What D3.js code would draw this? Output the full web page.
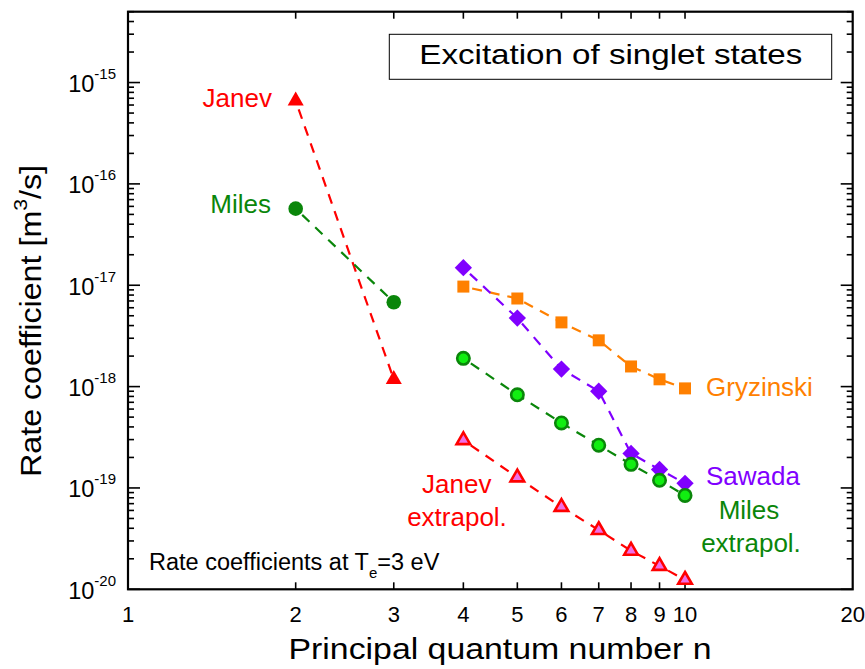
<!DOCTYPE html>
<html><head><meta charset="utf-8">
<script src="https://cdn.jsdelivr.net/npm/d3@7"></script>
<style>body{margin:0;background:#fff}text{font-family:"Liberation Sans",Arial,Helvetica,sans-serif}</style>
</head><body>
<svg id="c" width="865" height="669"></svg>
<script>
// ---- data ----
const nLow = [2, 3];
const janev = [6.6e-16, 1.18e-18];
const miles = [5.7e-17, 6.8e-18];
const nHigh = [4, 5, 6, 7, 8, 9, 10];
const sawada = [1.49e-17, 4.74e-18, 1.49e-18, 9.0e-19, 2.19e-19, 1.52e-19, 1.11e-19];
const gryzinski = [9.7e-18, 7.4e-18, 4.3e-18, 2.86e-18, 1.58e-18, 1.18e-18, 9.6e-19];
const milesExtrap = [1.9e-18, 8.3e-19, 4.38e-19, 2.64e-19, 1.71e-19, 1.19e-19, 8.44e-20];
const janevExtrap = [2.96e-19, 1.27e-19, 6.5e-20, 3.84e-20, 2.4e-20, 1.7e-20, 1.24e-20];
const xTicks = [1, 2, 3, 4, 5, 6, 7, 8, 9, 10, 20];
const yDecades = [-20, -19, -18, -17, -16, -15];

// ---- layout ----
const L = 128, R = 852.7, T = 11.7, B = 589.3;
const svg = d3.select("#c");
const x = d3.scaleLog().domain([1, 20]).range([L, R]);
const y = d3.scaleLog().domain([1e-20, 5e-15]).range([B, T]);

// ticks
const g = svg.append("g").attr("stroke", "#000").attr("stroke-width", 1.6);
xTicks.filter(v => v > 1 && v < 20).forEach(v => {
  g.append("line").attr("x1", x(v)).attr("x2", x(v)).attr("y1", B).attr("y2", B - 7);
  g.append("line").attr("x1", x(v)).attr("x2", x(v)).attr("y1", T).attr("y2", T + 7);
});
yDecades.forEach(d => {
  for (let m = 1; m <= 9; m++) {
    const v = m * Math.pow(10, d);
    if (v > 5.0001e-15 || v <= 1e-20 * 0.999) continue;
    const len = m === 1 ? 12 : 6;
    g.append("line").attr("x1", L).attr("x2", L + len).attr("y1", y(v)).attr("y2", y(v));
    g.append("line").attr("x1", R).attr("x2", R - len).attr("y1", y(v)).attr("y2", y(v));
  }
});
svg.append("rect").attr("x", L).attr("y", T).attr("width", R - L).attr("height", B - T)
  .attr("fill", "none").attr("stroke", "#000").attr("stroke-width", 2.2);

// tick labels
xTicks.forEach(v => {
  svg.append("text").attr("x", x(v)).attr("y", 621.5).attr("text-anchor", "middle")
    .attr("font-size", 22).text(v);
});
yDecades.forEach(d => {
  const t = svg.append("text").attr("x", 116).attr("y", y(Math.pow(10, d)) + 9.5)
    .attr("text-anchor", "end").attr("font-size", 23.5);
  t.append("tspan").text("10");
  t.append("tspan").attr("dy", -13).attr("font-size", 15).text(String(d));
});

// axis titles
svg.append("text").attr("x", 500).attr("y", 658.5).attr("text-anchor", "middle")
  .attr("font-size", 29).attr("textLength", 423).attr("lengthAdjust", "spacingAndGlyphs")
  .text("Principal quantum number n");
const yt = svg.append("text").attr("transform", "translate(41,321) rotate(-90)")
  .attr("text-anchor", "middle").attr("font-size", 29)
  .attr("textLength", 312).attr("lengthAdjust", "spacingAndGlyphs");
yt.append("tspan").text("Rate coefficient [m");
yt.append("tspan").attr("dy", -14).attr("font-size", 19).text("3");
yt.append("tspan").attr("dy", 14).text("/s]");

// title box
svg.append("rect").attr("x", 389.3).attr("y", 34.3).attr("width", 442.4).attr("height", 45)
  .attr("fill", "#fff").attr("stroke", "#000").attr("stroke-width", 1);
svg.append("text").attr("x", 610.8).attr("y", 64).attr("text-anchor", "middle")
  .attr("font-size", 28.5).attr("textLength", 383).attr("lengthAdjust", "spacingAndGlyphs")
  .text("Excitation of singlet states");

// note
const nt = svg.append("text").attr("x", 149).attr("y", 570).attr("font-size", 23.5);
nt.append("tspan").text("Rate coefficients at T");
nt.append("tspan").attr("dy", 8).attr("font-size", 15).text("e");
nt.append("tspan").attr("dy", -8).text("=3 eV");

// ---- series ----
const series = [
  {n: nLow, v: janev, color: "#ff0000", shape: "tri", fill: "#ff0000", stroke: "none"},
  {n: nLow, v: miles, color: "#0a860a", shape: "circ", fill: "#0a860a", stroke: "none"},
  {n: nHigh, v: gryzinski, color: "#ff8000", shape: "sq", fill: "#ff8000", stroke: "none"},
  {n: nHigh, v: sawada, color: "#8000ff", shape: "dia", fill: "#8000ff", stroke: "none"},
  {n: nHigh, v: milesExtrap, color: "#0a860a", shape: "ocirc", fill: "#11ee11", stroke: "#0a860a"},
  {n: nHigh, v: janevExtrap, color: "#ff0000", shape: "otri", fill: "#f06ee6", stroke: "#ff0000"}
];
const line = d3.line().x(d => x(d[0])).y(d => y(d[1]));
series.forEach(s => {
  const pts = s.n.map((n, i) => [n, s.v[i]]);
  svg.append("path").attr("d", line(pts)).attr("fill", "none").attr("stroke", s.color)
    .attr("stroke-width", 2.2).attr("stroke-dasharray", "10,8").attr("stroke-dashoffset", -9);
});
series.forEach(s => {
  const pts = s.n.map((n, i) => [n, s.v[i]]);
  pts.forEach(p => {
    const cx = x(p[0]), cy = y(p[1]);
    let el;
    if (s.shape === "circ") el = svg.append("circle").attr("r", 7.3);
    else if (s.shape === "ocirc") el = svg.append("circle").attr("r", 6.2).attr("stroke-width", 2.6);
    else if (s.shape === "sq") el = svg.append("path").attr("d", d3.symbol(d3.symbolSquare, 144)());
    else if (s.shape === "dia") el = svg.append("path").attr("d", d3.symbol(d3.symbolSquare, 150)());
    else if (s.shape === "tri") el = svg.append("path").attr("d", d3.symbol(d3.symbolTriangle, 112)());
    else if (s.shape === "otri") el = svg.append("path").attr("d", d3.symbol(d3.symbolTriangle, 80)()).attr("stroke-width", 2.6).attr("stroke-linejoin", "miter");
    el.attr("fill", s.fill).attr("stroke", s.stroke);
    if (el.node().tagName === "circle") el.attr("cx", cx).attr("cy", cy);
    else el.attr("transform", `translate(${cx},${cy})` + (s.shape === "dia" ? " rotate(45)" : ""));
  });
});

// ---- labels ----
const lab = (t, xx, yy, c, anchor) => svg.append("text").attr("x", xx).attr("y", yy)
  .attr("text-anchor", anchor).attr("font-size", 26).attr("fill", c).text(t);
lab("Janev", 272, 107, "#ff0000", "end");
lab("Miles", 271, 213, "#0a860a", "end");
lab("Gryzinski", 706, 396, "#ff8000", "start");
lab("Sawada", 706, 485, "#8000ff", "start");
lab("Miles", 749, 519, "#0a860a", "middle");
lab("extrapol.", 751, 551.5, "#0a860a", "middle");
lab("Janev", 456.7, 493, "#ff0000", "middle");
lab("extrapol.", 457, 526, "#ff0000", "middle");
</script>
</body></html>
